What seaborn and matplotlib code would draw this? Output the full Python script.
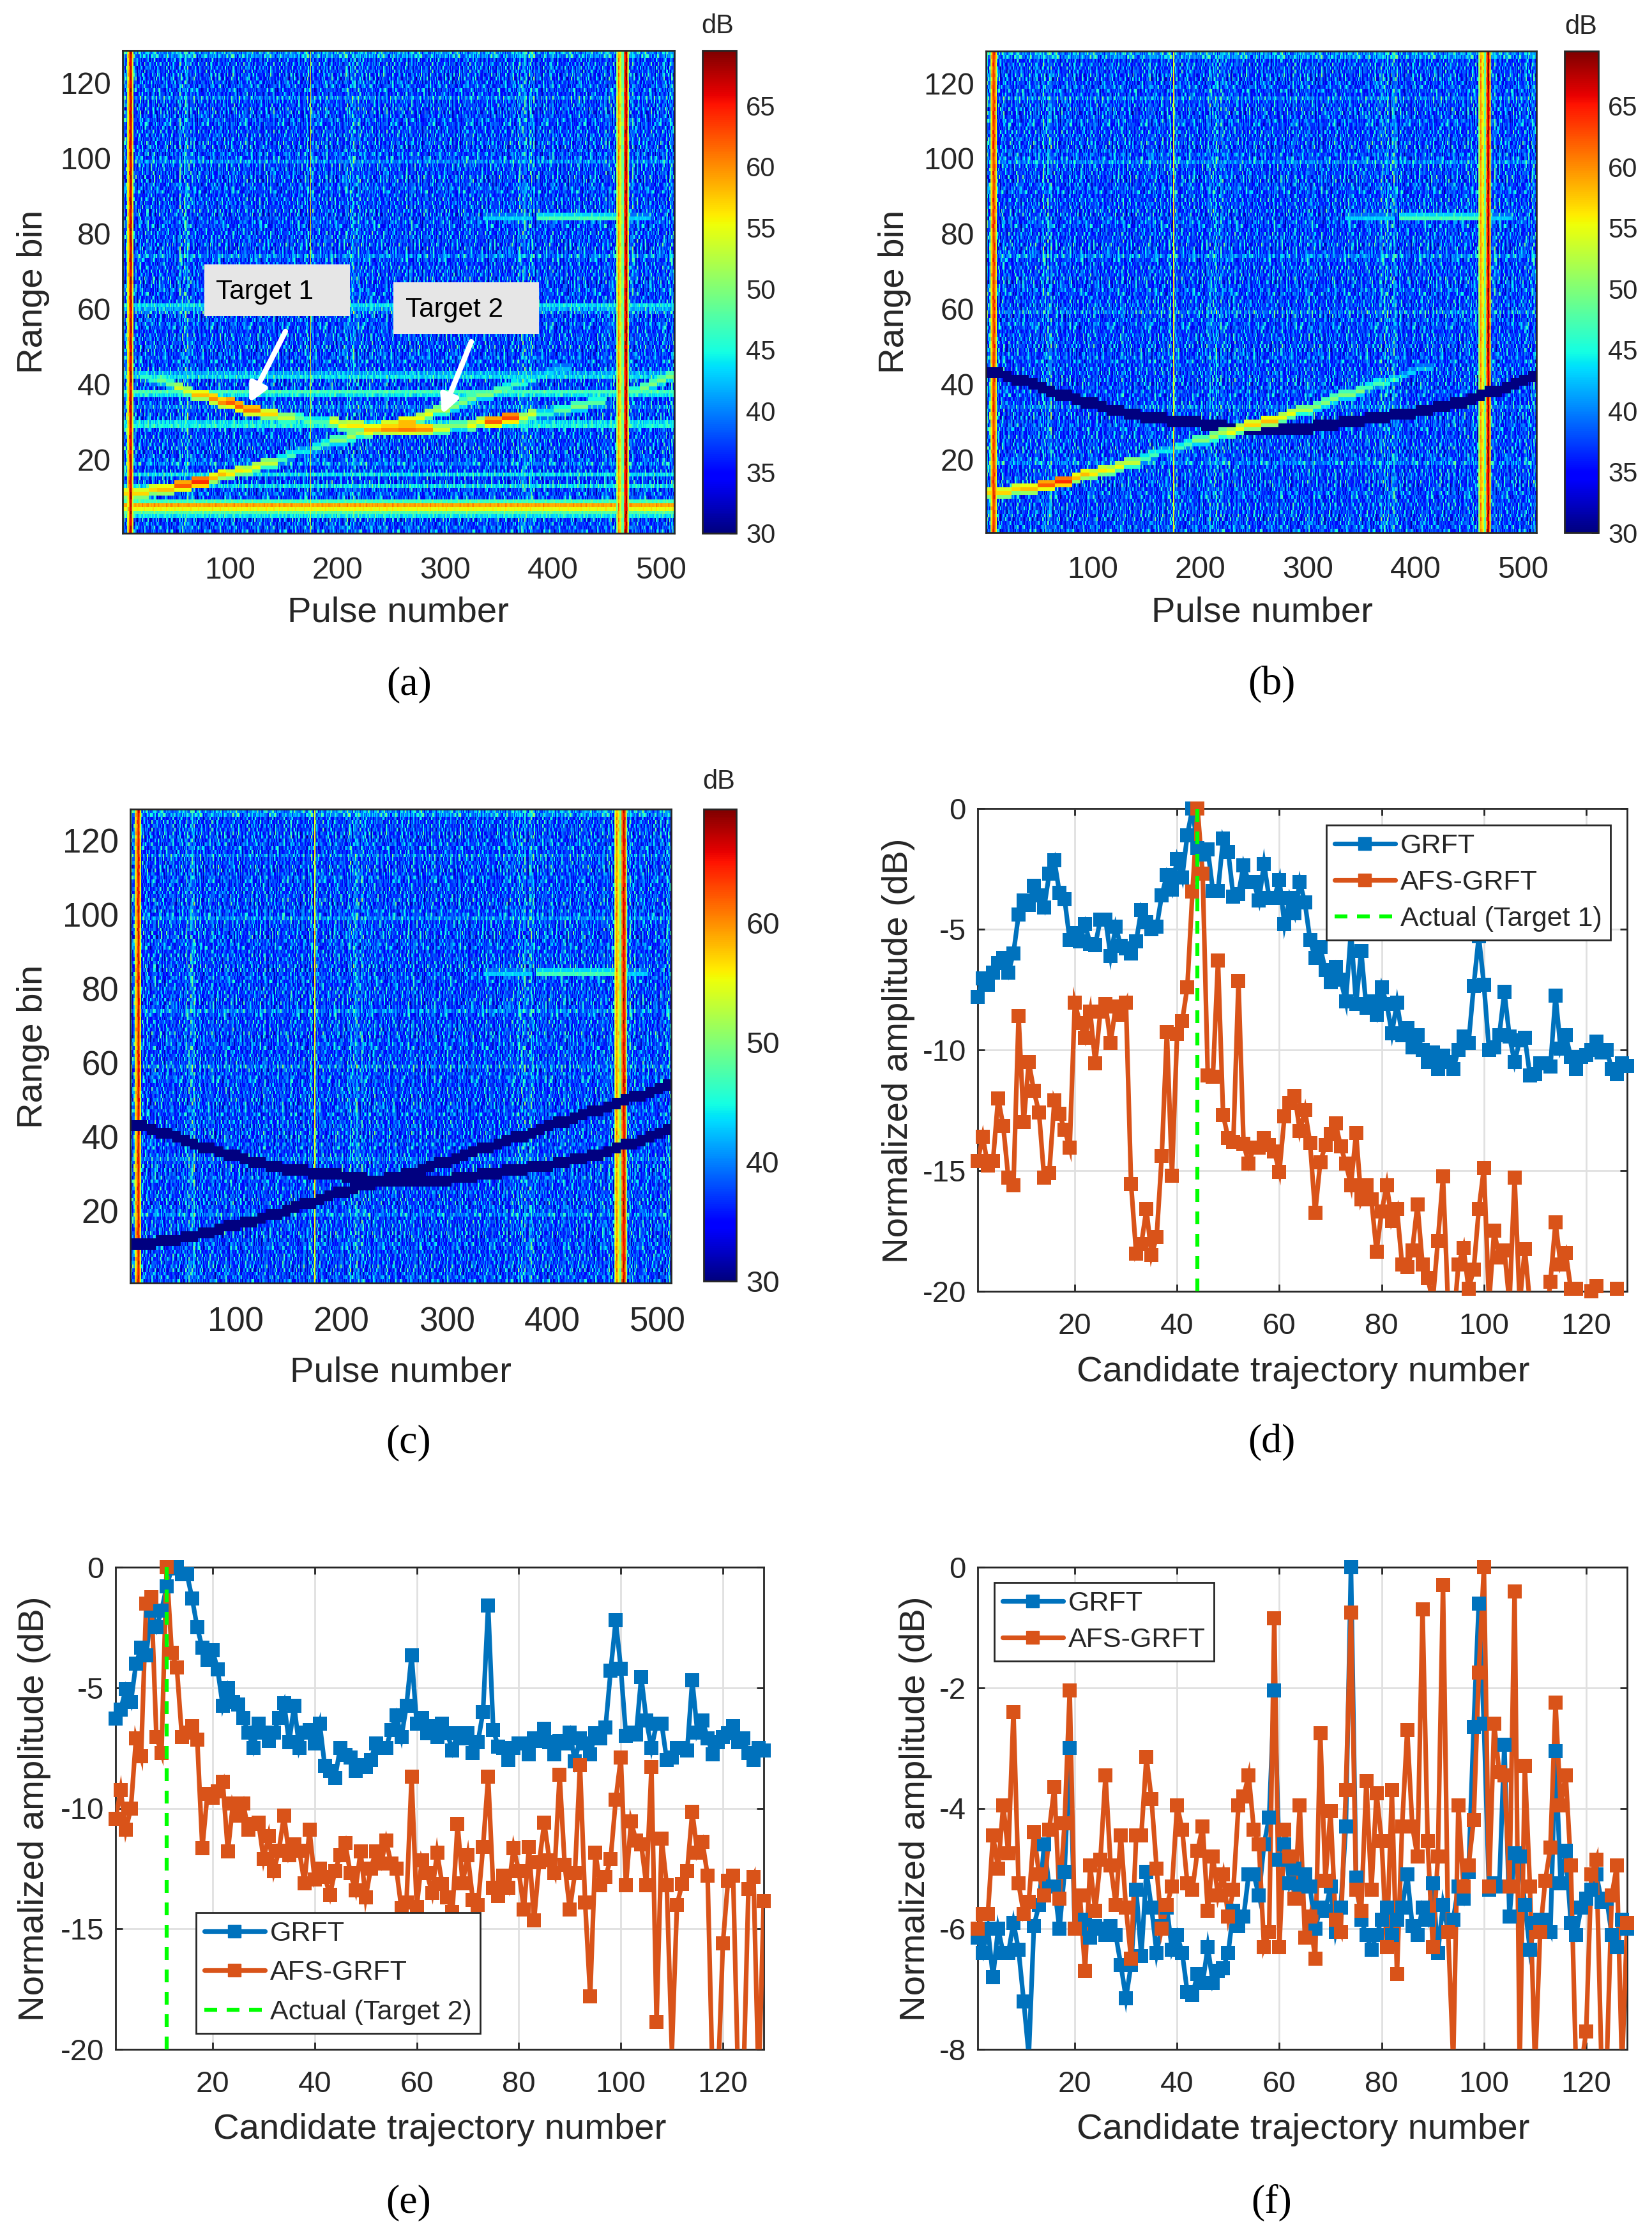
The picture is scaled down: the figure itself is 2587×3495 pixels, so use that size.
import numpy as np
import pandas as pd
import matplotlib
matplotlib.use('Agg')
import matplotlib.pyplot as plt
import seaborn as sns

# --- line panels, values (below axis = clipped in the original) ---
d_grft = [-7.8,-7.05,-7.3,-6.8,-6.4,-6.2,-6.8,-6.0,-4.4,-3.8,
          -4.0,-3.2,-3.6,-4.1,-2.7,-2.15,-3.5,-3.75,-5.45,-5.15,
          -5.5,-4.8,-5.6,-5.65,-4.6,-4.6,-6.1,-4.9,-5.7,-5.8,
          -6.0,-5.5,-4.2,-4.7,-5.0,-4.9,-3.6,-2.75,-3.35,-2.1,
          -2.85,-1.1,0,-1.65,-1.9,-1.7,-3.4,-3.4,-1.25,-1.8,
          -3.65,-3.55,-2.35,-3.05,-3.05,-3.8,-2.3,-3.7,-3.7,-2.95,
          -4.8,-3.7,-4.35,-3.05,-3.9,-5.45,-6.2,-5.75,-6.7,-7.2,
          -6.55,-7.1,-8.0,-5.1,-8.1,-5.9,-8.25,-8.0,-8.55,-7.4,
          -8.1,-9.3,-8.05,-9.4,-9.1,-9.9,-9.4,-10.0,-10.5,-10.1,
          -10.8,-10.25,-10.5,-10.8,-10.0,-9.45,-9.7,-7.35,-5.3,-7.3,
          -10.0,-9.9,-9.4,-7.6,-9.45,-10.5,-9.6,-9.5,-11.05,-11.0,
          -10.55,-10.55,-10.7,-7.75,-9.95,-9.4,-10.3,-10.8,-10.3,-10.2,
          -10.0,-9.65,-10.1,-10.0,-10.8,-11.0,-10.55,-10.65]
d_afs = [-14.6,-13.6,-14.8,-14.6,-12.0,-13.15,-15.3,-15.6,-8.6,-13.0,
         -10.5,-11.7,-12.6,-15.3,-15.1,-12.1,-12.65,-13.3,-14.05,-8.05,
         -8.9,-9.5,-8.4,-10.55,-8.4,-8.1,-9.7,-8.2,-8.55,-8.05,
         -15.55,-18.45,-18.05,-16.6,-18.5,-17.75,-14.4,-9.25,-15.2,-9.35,
         -8.8,-7.4,-3.45,0,-2.7,-11.05,-11.1,-6.3,-12.7,-13.65,
         -13.8,-7.15,-13.9,-14.7,-14.05,-14.05,-13.65,-13.95,-14.2,-15.05,
         -12.75,-12.2,-11.9,-13.35,-12.5,-13.85,-16.75,-14.65,-13.95,-13.5,
         -13.05,-14.0,-14.7,-15.6,-13.45,-16.2,-15.6,-16.2,-18.35,-16.7,
         -15.6,-17.1,-16.6,-18.9,-19.0,-18.3,-16.4,-18.9,-19.45,-20.4,
         -17.9,-15.25,-20.6,-21.5,-18.9,-18.2,-19.9,-19.1,-16.6,-14.9,
         -20.5,-17.5,-18.6,-18.3,-20.5,-15.3,-20.5,-18.25,-20.5,-21.5,
         -21.5,-21.5,-19.6,-17.15,-18.9,-18.4,-19.9,-19.9,-21.5,-21.5,
         -20.0,-19.8,-21.5,-21.5,-21.5,-19.9,-21.5,-21.5]
e_grft = [-6.27,-5.9,-5.05,-5.6,-4.0,-3.35,-3.65,-1.8,-2.5,-1.8,
          -0.8,-0.05,0,-0.3,-0.3,-1.3,-2.5,-3.35,-3.85,-3.45,
          -4.25,-5.75,-5.0,-5.6,-5.7,-6.25,-6.85,-7.5,-6.5,-6.85,
          -7.2,-6.85,-6.25,-5.65,-7.25,-5.75,-7.5,-6.85,-6.75,-7.3,
          -6.5,-8.25,-8.45,-8.75,-7.5,-7.8,-7.9,-8.45,-8.2,-8.3,
          -8.0,-7.3,-7.5,-7.5,-6.75,-6.15,-7.05,-5.75,-3.65,-6.5,
          -6.25,-6.9,-6.6,-7.05,-6.5,-6.9,-7.6,-6.9,-7.1,-6.9,
          -7.7,-7.25,-6.0,-1.6,-6.75,-7.45,-7.5,-8.0,-7.5,-7.3,
          -7.3,-7.75,-7.1,-7.2,-6.7,-7.25,-7.75,-7.2,-7.3,-6.85,
          -8.05,-7.1,-7.3,-7.75,-6.9,-7.1,-6.65,-4.3,-2.2,-4.2,
          -7.0,-6.85,-6.95,-4.55,-6.35,-7.5,-6.5,-6.5,-8.0,-7.9,
          -7.5,-7.5,-7.6,-4.7,-6.85,-6.35,-7.1,-7.75,-7.25,-7.05,
          -6.9,-6.6,-7.25,-7.1,-7.7,-8.0,-7.5,-7.6]
e_afs = [-10.45,-9.25,-10.9,-10.0,-7.1,-7.85,-1.5,-1.25,-7.05,-7.7,
         0,-3.55,-4.15,-7.05,-6.85,-6.6,-7.15,-11.65,-9.4,-9.55,
         -9.3,-8.9,-11.8,-9.8,-10.3,-9.8,-10.9,-10.65,-10.6,-12.1,
         -11.15,-12.6,-11.75,-10.3,-11.95,-11.5,-11.75,-13.1,-10.9,-12.95,
         -12.5,-12.85,-13.6,-12.6,-11.95,-11.45,-12.7,-13.4,-11.8,-13.7,
         -12.5,-11.8,-12.3,-11.35,-12.3,-12.5,-14.15,-13.9,-8.7,-14.1,
         -12.15,-12.7,-13.5,-11.85,-13.15,-13.7,-14.3,-10.65,-13.1,-11.95,
         -13.8,-14.0,-11.6,-8.7,-13.3,-13.65,-12.8,-13.3,-11.65,-12.6,
         -14.2,-11.6,-14.65,-12.25,-10.6,-12.15,-12.7,-8.6,-12.35,-14.2,
         -12.7,-8.2,-13.9,-17.8,-11.85,-13.2,-12.85,-12.1,-9.65,-7.9,
         -13.2,-10.55,-11.35,-11.5,-13.2,-8.3,-18.85,-11.25,-13.2,-20.1,
         -14.0,-13.15,-12.6,-10.15,-11.85,-11.4,-12.8,-21.5,-21.5,-15.6,
         -13.0,-12.8,-21.5,-21.5,-13.35,-12.85,-21.5,-13.85]
f_grft = [-6.15,-6.4,-6.0,-6.8,-6.0,-6.4,-6.4,-5.9,-6.35,-7.2,
          -8.1,-5.95,-5.6,-4.6,-5.3,-5.3,-6.0,-5.05,-3.0,-6.0,
          -6.0,-5.85,-6.15,-5.95,-6.0,-6.1,-5.95,-6.1,-6.6,-7.15,
          -6.6,-5.35,-6.45,-5.05,-5.65,-6.4,-5.95,-5.65,-6.35,-6.1,
          -6.4,-7.05,-7.1,-6.75,-6.9,-6.3,-6.9,-6.7,-6.65,-6.4,
          -5.7,-5.95,-5.8,-5.1,-5.1,-5.45,-4.6,-4.15,-2.05,-4.85,
          -4.6,-5.25,-5.0,-5.3,-5.1,-5.3,-6.0,-5.65,-5.7,-5.3,
          -6.05,-5.65,-4.3,0,-5.15,-5.85,-6.1,-6.35,-6.1,-5.85,
          -5.65,-6.1,-5.85,-5.65,-5.1,-5.95,-6.1,-5.65,-5.85,-5.25,
          -6.4,-5.6,-6.05,-5.85,-5.3,-5.5,-5.05,-2.65,-0.6,-2.6,
          -5.35,-5.25,-5.3,-2.95,-5.8,-4.75,-4.8,-5.6,-6.35,-5.9,
          -5.85,-5.85,-6.05,-3.05,-5.25,-4.7,-5.9,-6.1,-5.65,-5.5,
          -5.35,-5.1,-5.55,-5.5,-6.1,-6.3,-5.85,-6.0]
f_afs = [-6.0,-5.75,-5.75,-4.45,-5.0,-3.95,-4.75,-2.4,-5.25,-5.75,
         -5.55,-4.4,-5.1,-5.45,-4.35,-3.65,-5.5,-4.25,-2.05,-6.0,
         -5.45,-6.7,-4.95,-5.7,-4.85,-3.45,-4.95,-5.6,-4.45,-5.65,
         -6.5,-4.45,-4.45,-3.15,-3.85,-5.0,-6.0,-5.6,-5.3,-3.95,
         -4.35,-5.25,-5.35,-4.7,-4.3,-5.7,-4.8,-5.45,-5.1,-5.8,
         -5.35,-3.95,-3.8,-3.45,-4.35,-4.6,-6.3,-6.05,-0.85,-6.3,
         -4.35,-4.8,-5.5,-3.95,-6.15,-5.8,-6.5,-2.75,-5.2,-4.05,
         -5.85,-6.05,-3.7,-0.75,-5.35,-5.7,-3.55,-5.35,-3.75,-4.55,
         -6.3,-3.7,-6.75,-4.3,-2.7,-4.3,-4.8,-0.7,-4.55,-6.3,
         -4.8,-0.3,-6.05,-8.2,-3.95,-5.3,-4.95,-4.2,-1.75,0,
         -5.3,-2.6,-3.4,-3.45,-5.3,-0.4,-8.3,-3.3,-5.3,-8.3,
         -6.05,-5.2,-4.65,-2.25,-3.95,-3.45,-4.95,-8.3,-8.3,-7.7,
         -5.1,-4.85,-8.3,-8.3,-5.45,-4.95,-8.3,-5.9]

# --- heatmap parts ---
# speckle: one small patch estimated from a crop of panel (a), repeated as a stand-in texture
speckle_patch = [
    [36,33,37,34,33,38,41,36,35,37,41,42,36,33,35,32,33,37,36,34,41,38,35,33,37,34,36,33,38,35,37,34,36,38,35],
    [38,35,36,41,37,34,36,35,33,36,38,37,41,36,33,35,37,38,42,36,35,33,36,34,38,36,33,35,32,37,34,36,33,36,38],
    [35,37,33,36,35,32,34,38,36,41,35,33,36,34,38,36,35,41,37,33,36,38,34,36,33,35,37,41,36,34,32,38,35,33,37],
    [33,36,39,35,43,33,32,34,37,35,33,42,38,35,32,34,41,36,33,31,35,37,33,43,36,34,38,33,35,41,36,33,37,34,36],
    [41,34,32,33,36,38,35,33,42,36,34,37,33,44,36,38,33,35,36,34,33,42,37,35,34,36,33,38,41,35,33,36,42,35,33],
    [35,38,36,34,33,35,41,37,36,33,38,35,36,34,35,33,43,36,32,35,38,36,33,37,41,34,36,33,35,37,36,34,38,33,36],
    [37,33,35,41,36,34,33,36,38,35,33,41,34,36,33,37,35,33,41,36,34,33,38,35,36,33,42,36,34,33,38,36,35,41,34],
    [34,36,42,35,33,37,36,33,34,43,36,35,33,38,41,35,34,36,33,35,42,37,34,36,33,38,35,34,37,36,41,33,34,36,35],
    [36,33,35,34,38,33,37,41,36,34,35,33,37,36,33,34,36,38,35,33,36,34,35,41,37,33,36,35,33,34,36,37,33,35,41]]
# how far each row of the patch is slid sideways
patch_slide = [0, 17, 5, 29, 11, 23, 2, 31, 8, 19, 26, 14, 33, 6, 21, 12]
# thin vertical streaks on top of the patch
column_streaks = [0,1,-1,1,2,0,-2,1,0,2,-1,0,1,-2,0,1,2,-1,0,-2,1,1,0,2,-1,-2,1,0,1,2,-1,0,-2,1,1,0,-1]

# soft vertical bands (pulse from, pulse to, dB)
band_start = [1, 54, 171, 208, 368, 377, 456, 474, 505]
band_end = [4, 62, 177, 222, 374, 382, 459, 478, 512]
band_gain = [2, 2, 1, 1.5, 2, 2, 1, 1, 1]

# strong pulses (columns) and their level
line_pulses = [5, 6, 7, 8, 9, 10, 175, 459, 460, 461, 462, 463, 464, 465, 466, 467, 468, 469, 470]
line_levels = [52, 57, 63, 67, 62, 54, 55, 50, 55, 59, 56, 55, 50, 48, 60, 66, 67, 62, 52]

# strong range bins seen only in panel (a)
clutter_bins = [5, 6, 7, 8, 9, 13, 16, 29, 30, 37, 38, 42, 43, 60, 61]
clutter_levels = [44, 48, 55, 59, 47, 44, 44, 45, 44, 44, 47, 44, 42, 42, 44]
clutter_spread = [0.4, 0.3, 0.2, 0.2, 0.3, 0.6, 0.6, 0.5, 0.6, 0.5, 0.3, 0.6, 0.6, 0.7, 0.5]

# faint range bins in every panel
faint_bins = [116, 99, 74, 59, 34, 19, 128, 127]
faint_gain = [2, 3, 2, 2, 2, 2, 3, 3]

# third weak target at range bin 84: pulse from, pulse to, level
weak_start = [335, 385, 470]
weak_end = [380, 460, 490]
weak_level = [43, 47, 43]

# target range bin per block of 8 pulses
t1_bins = [43,43,42,41,41,40,39,38,37,37,36,35,35,34,33,33,32,32,31,31,31,30,30,30,30,29,29,29,28,28,28,28,
           28,28,28,28,28,28,29,29,29,30,30,30,31,31,31,32,32,32,33,33,34,34,35,35,36,37,38,38,39,40,41,42]
t2_bins = [11,11,11,12,12,12,13,13,14,14,15,16,16,17,17,18,19,19,20,21,22,22,23,24,25,25,26,27,27,28,29,29,
           30,30,31,32,33,33,34,35,36,37,37,38,39,40,40,41,42,43,44,44,45,46,47,47,48,49,50,51,51,52,53,54]
# target level per block of 16 pulses
t1_levels = [40,46,49,54,58,60,62,61,57,53,48,47,55,56,58,60,61,60,54,50,55,62,63,54,46,48,50,48,40,48,50,50]
t2_levels = [57,57,58,62,64,58,56,55,53,47,44,47,50,52,55,57,58,55,52,50,50,50,47,45,43,42,40,40,40,40,40,40]

n_bins, n_pulses = 128, 512

patch = np.array(speckle_patch, dtype=float)
speckle = np.array([np.roll(np.resize(patch[r % 9], n_pulses), patch_slide[r % 16]) for r in range(n_bins)])
speckle = 38 + (speckle - 36) * 1.3 + np.resize(column_streaks, n_pulses)


def build_map(clutter=False, show_t1=True, show_t2=True):
    m = speckle.copy()
    # bands lift the bright cells more than the dark ones
    for s, e, g in zip(band_start, band_end, band_gain):
        m[:, s - 1:e] += g * np.clip((speckle[:, s - 1:e] - 32) / 6, 0, 1.6)
    for b, g in zip(faint_bins, faint_gain):
        m[b - 1, :] += g
    if clutter:
        for b, lv, sp in zip(clutter_bins, clutter_levels, clutter_spread):
            m[b - 1, :] = np.maximum(m[b - 1, :], lv + (speckle[b - 1, :] - 38) * sp)
    for s, e, lv in zip(weak_start, weak_end, weak_level):
        m[83, s - 1:e] = lv + (speckle[83, s - 1:e] - 38) * 0.2
        m[84, s - 1:e] = np.maximum(m[84, s - 1:e], lv - 4)
    for p, lv in zip(line_pulses, line_levels):
        m[:, p - 1] = lv + (speckle[:, p - 1] - 38) * 0.35
    # target returns
    bins = [np.repeat(t1_bins, 8), np.repeat(t2_bins, 8)]
    levels = [np.repeat(t1_levels, 16), np.repeat(t2_levels, 16)]
    shown = [show_t1, show_t2]
    for k in range(2):
        for p in range(n_pulses):
            r = bins[k][p] - 1
            if shown[k]:
                if levels[k][p] > 41:
                    m[r, p] = max(m[r, p], levels[k][p])
                    m[r + 1, p] = max(m[r + 1, p], levels[k][p] - 3)
                    m[r - 1, p] = max(m[r - 1, p], levels[k][p] - 7)
            else:
                m[r - 1:r + 2, p] = 29.0
    return m


W, H = 2587, 3495
blue, orange, ink = '#0072BD', '#D95319', '#262626'

sns.set_theme(style='white')
plt.rcParams['font.family'] = ['Liberation Sans', 'DejaVu Sans']
plt.rcParams['text.color'] = ink
plt.rcParams['axes.labelcolor'] = ink

fig = plt.figure(figsize=(W / 100, H / 100), dpi=100, facecolor='white')


def px_axes(l, t, r, b):
    return fig.add_axes([l / W, 1 - b / H, (r - l) / W, (b - t) / H])


def px_text(x, y, s, **kw):
    return fig.text(x / W, 1 - y / H, s, ha='center', va='center', **kw)


def px_xy(x, y):
    return (x / W, 1 - y / H)


def frame(ax, fs, xpad, ypad):
    for s in ax.spines.values():
        s.set_visible(True)
        s.set_color(ink)
        s.set_linewidth(2.0)
    ax.tick_params(axis='both', direction='in', length=8, width=2, color=ink, labelcolor=ink,
                   labelsize=fs, top=True, right=True, bottom=True, left=True)
    ax.tick_params(axis='x', pad=xpad)
    ax.tick_params(axis='y', pad=ypad)


def heat_panel(mat, box, cbox, cticks, fs, cfs, db_xy):
    ax = px_axes(*box)
    cax = px_axes(*cbox)
    df = pd.DataFrame(mat, index=np.arange(1, n_bins + 1), columns=np.arange(1, n_pulses + 1))
    sns.heatmap(df, ax=ax, cbar_ax=cax, cmap='jet', vmin=30, vmax=69.5,
                xticklabels=False, yticklabels=False, cbar_kws={'ticks': cticks})
    ax.set_xlabel('')
    ax.set_ylabel('')
    ax.set_ylim(0, n_bins)
    ax.set_xlim(0, n_pulses)
    ax.set_xticks(np.array([100, 200, 300, 400, 500]) - 0.5, ['100', '200', '300', '400', '500'])
    ax.set_yticks(np.array([20, 40, 60, 80, 100, 120]) - 0.5, ['20', '40', '60', '80', '100', '120'])
    plt.setp(ax.get_yticklabels(), rotation=0)
    plt.setp(ax.get_xticklabels(), rotation=0)
    frame(ax, fs, 26, 13)
    cb = ax.collections[0].colorbar
    cb.outline.set_edgecolor(ink)
    cb.outline.set_linewidth(2.0)
    cax.tick_params(direction='in', length=8, width=2, color=ink, labelcolor=ink, labelsize=cfs, pad=11,
                    right=True, left=False)
    px_text(db_xy[0], db_xy[1], 'dB', fontsize=30)
    return ax


def line_panel(grft, afs, ymin, yticks, box, actual=None, actual_label=None, legend_xy=None, spacing=0.4):
    ax = px_axes(*box)
    x = np.arange(1, 129)
    ax.grid(True, color='#E0E0E0', linewidth=2)
    ax.set_axisbelow(True)
    for vals, col in [(grft, blue), (afs, orange)]:
        v = np.array(vals, dtype=float)
        sns.lineplot(x=x, y=v, color=col, linewidth=5.2, ax=ax, estimator=None, zorder=3,
                     solid_joinstyle='miter')
        keep = v >= ymin
        sns.scatterplot(x=x[keep], y=v[keep], color=col, marker='s', s=250, linewidth=0,
                        clip_on=False, ax=ax, zorder=4)
    ax.set_xlim(1, 128)
    ax.set_ylim(ymin, 0)
    ax.set_xlabel('')
    ax.set_ylabel('')
    ax.set_xticks([20, 40, 60, 80, 100, 120], ['20', '40', '60', '80', '100', '120'])
    ax.set_yticks(yticks, [str(t) for t in yticks])
    frame(ax, 34, 24, 13)
    handles = [plt.Line2D([], [], color=blue, lw=5.2, marker='s', ms=15, label='GRFT'),
               plt.Line2D([], [], color=orange, lw=5.2, marker='s', ms=15, label='AFS-GRFT')]
    if actual is not None:
        ax.axvline(actual, color='#00FF00', lw=4.5, ls=(0, (3.2, 2.4)), zorder=5)
        handles.append(plt.Line2D([], [], color='#00FF00', lw=4.5, ls=(0, (3.2, 2.4)), label=actual_label))
    leg = ax.legend(handles=handles, loc='upper left', bbox_to_anchor=px_xy(*legend_xy),
                    bbox_transform=fig.transFigure, borderaxespad=0, fontsize=31, frameon=True,
                    fancybox=False, framealpha=1, edgecolor=ink, handlelength=2.2, handletextpad=0.2,
                    labelspacing=spacing, borderpad=0.3)
    leg.get_frame().set_linewidth(2)
    leg.set_zorder(10)
    return ax


# panel (a)
ax_a = heat_panel(build_map(clutter=True), (192, 79, 1056, 835), (1100, 79, 1153, 835),
                  [30, 35, 40, 45, 50, 55, 60, 65], 34.5, 30, (1124, 41))
for (l, t, r, b), label, tx, ty in [((320, 414, 548, 495), 'Target 1', 338, 457),
                                    ((616, 442, 844, 523), 'Target 2', 635, 485)]:
    fig.patches.append(plt.Rectangle((l / W, 1 - b / H), (r - l) / W, (b - t) / H, transform=fig.transFigure,
                                     facecolor='#E6E6E6', edgecolor='none', zorder=5))
    fig.text(tx / W, 1 - ty / H, label, fontsize=30.5, ha='left', va='center', zorder=6, color='black')
for start, tip in [((447, 519), (390, 631)), ((738, 535), (692, 649))]:
    ax_a.annotate('', xy=px_xy(*tip), xytext=px_xy(*start), xycoords='figure fraction',
                  textcoords='figure fraction',
                  arrowprops=dict(arrowstyle='-|>', color='white', lw=6, mutation_scale=42, shrinkA=0, shrinkB=0))

# panel (b)
heat_panel(build_map(show_t1=False), (1544, 80, 2406, 834), (2450, 80, 2503, 834),
           [30, 35, 40, 45, 50, 55, 60, 65], 34.5, 30, (2476, 42))
# panel (c)
heat_panel(build_map(show_t1=False, show_t2=False), (204, 1267, 1051, 2009), (1102, 1267, 1153, 2006),
           [30, 40, 50, 60], 38, 34, (1126, 1224))

# panels (d), (e), (f)
line_panel(d_grft, d_afs, -20, [-20, -15, -10, -5, 0], (1531, 1266, 2548, 2022), 44, 'Actual (Target 1)',
           (2077, 1292))
line_panel(e_grft, e_afs, -20, [-20, -15, -10, -5, 0], (181, 2454, 1196, 3209), 11, 'Actual (Target 2)',
           (307, 2995), spacing=0.5)
line_panel(f_grft, f_afs, -8, [-8, -6, -4, -2, 0], (1531, 2454, 2548, 3209), legend_xy=(1557, 2478))

# axis titles and captions
xlabels = [('Pulse number', 623, 959), ('Pulse number', 1976, 959), ('Pulse number', 627, 2149),
           ('Candidate trajectory number', 2041, 2149), ('Candidate trajectory number', 689, 3335),
           ('Candidate trajectory number', 2041, 3335)]
for s, x, y in xlabels:
    px_text(x, y, s, fontsize=40.5)
ylabels = [('Range bin', 52, 457), ('Range bin', 1401, 457), ('Range bin', 52, 1639),
           ('Normalized amplitude (dB)', 1407, 1645), ('Normalized amplitude (dB)', 54, 2832),
           ('Normalized amplitude (dB)', 1434, 2832)]
for s, x, y in ylabels:
    px_text(x, y, s, fontsize=40.5, rotation=90)
captions = [('(a)', 641, 1072), ('(b)', 1991, 1072), ('(c)', 640, 2259), ('(d)', 1991, 2259),
            ('(e)', 640, 3449), ('(f)', 1991, 3449)]
for s, x, y in captions:
    px_text(x, y, s, fontsize=46, family=['Liberation Serif', 'DejaVu Serif'], color='black')

fig.savefig('out.png', dpi=100, facecolor='white')
